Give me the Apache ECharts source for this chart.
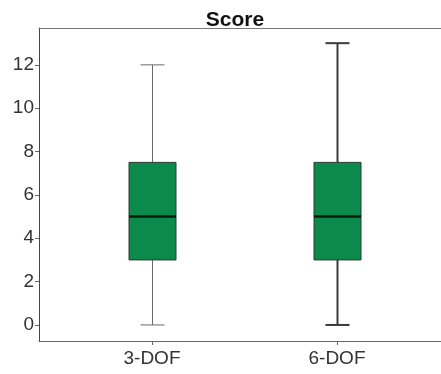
<!DOCTYPE html>
<html>
<head>
<meta charset="utf-8">
<script src="https://cdn.jsdelivr.net/npm/echarts@6/dist/echarts.min.js"></script>
<style>html,body{margin:0;padding:0;background:#fff;}#c{width:441px;height:374px;}</style>
</head>
<body>
<div id="c"></div>
<script>
const categories = ['3-DOF', '6-DOF'];
const minValues = [0, 0];
const q1Values = [3, 3];
const medianValues = [5, 5];
const q3Values = [7.5, 7.5];
const maxValues = [12, 13];
const yTicks = [0, 2, 4, 6, 8, 10, 12];

const whiskerWidths = [1, 2];
const whiskerColors = ['#6a6a6a', '#3a3a3a'];

const positions = categories.map((c, i) => i + 1);
const boxData = categories.map((c, i) => [positions[i], minValues[i], q1Values[i], medianValues[i], q3Values[i], maxValues[i]]);

const chart = echarts.init(document.getElementById('c'), null, {renderer: 'canvas'});
const font = 'Arial, "Liberation Sans", sans-serif';
const BOX_W = 47, CAP_W = 24;
const X_MIN = 1 - 113 / 185, X_MAX = X_MIN + 402 / 185;

chart.setOption({
  animation: false,
  backgroundColor: '#fff',
  title: {
    text: 'Score', left: 230, top: 5, textAlign: 'center',
    textStyle: {fontFamily: font, fontWeight: 'bold', fontSize: 21, color: '#111'}
  },
  grid: {left: 39, top: 28, right: 0, bottom: 33, show: false, containLabel: false},
  xAxis: [{
    type: 'value', min: X_MIN, max: X_MAX,
    splitLine: {show: false},
    axisLine: {show: true, onZero: false, lineStyle: {color: '#666', width: 1}},
    axisTick: {show: true, length: 4, customValues: positions, lineStyle: {color: '#666'}},
    axisLabel: {
      customValues: positions, margin: 8,
      formatter: v => categories[Math.round(v) - 1] || '',
      fontFamily: font, fontSize: 19, color: '#333'
    }
  }, {
    type: 'value', position: 'top', min: X_MIN, max: X_MAX,
    splitLine: {show: false},
    axisLine: {show: true, onZero: false, lineStyle: {color: '#777', width: 1}},
    axisTick: {show: false}, axisLabel: {show: false}
  }],
  yAxis: {
    type: 'value', min: -0.74, max: 13.7,
    splitLine: {show: false},
    axisLine: {show: true, onZero: false, lineStyle: {color: '#444', width: 1}},
    axisTick: {show: true, length: 4, customValues: yTicks, lineStyle: {color: '#666'}},
    axisLabel: {customValues: yTicks, margin: 5, fontFamily: font, fontSize: 19, color: '#333'}
  },
  series: [{
    type: 'custom',
    data: boxData,
    renderItem: function (params, api) {
      const i = params.dataIndex;
      const x = api.value(0);
      const pMin = api.coord([x, api.value(1)]);
      const pQ1 = api.coord([x, api.value(2)]);
      const pMed = api.coord([x, api.value(3)]);
      const pQ3 = api.coord([x, api.value(4)]);
      const pMax = api.coord([x, api.value(5)]);
      const cx = Math.round(pMin[0]) + 0.5;
      const ws = {stroke: whiskerColors[i], lineWidth: whiskerWidths[i]};
      return {
        type: 'group',
        children: [
          {type: 'line', shape: {x1: cx, y1: pMax[1], x2: cx, y2: pQ3[1]}, style: ws},
          {type: 'line', shape: {x1: cx, y1: pQ1[1], x2: cx, y2: pMin[1]}, style: ws},
          {type: 'line', shape: {x1: cx - CAP_W / 2, y1: pMax[1], x2: cx + CAP_W / 2, y2: pMax[1]}, style: ws},
          {type: 'line', shape: {x1: cx - CAP_W / 2, y1: pMin[1], x2: cx + CAP_W / 2, y2: pMin[1]}, style: ws},
          {type: 'rect', shape: {x: cx - BOX_W / 2, y: pQ3[1], width: BOX_W, height: pQ1[1] - pQ3[1]},
            style: {fill: '#0b8a4c', stroke: '#2b3a30', lineWidth: 1}},
          {type: 'line', shape: {x1: cx - BOX_W / 2, y1: pMed[1], x2: cx + BOX_W / 2, y2: pMed[1]},
            style: {stroke: '#0a1a10', lineWidth: 2.5}}
        ]
      };
    }
  }]
});
</script>
</body>
</html>
